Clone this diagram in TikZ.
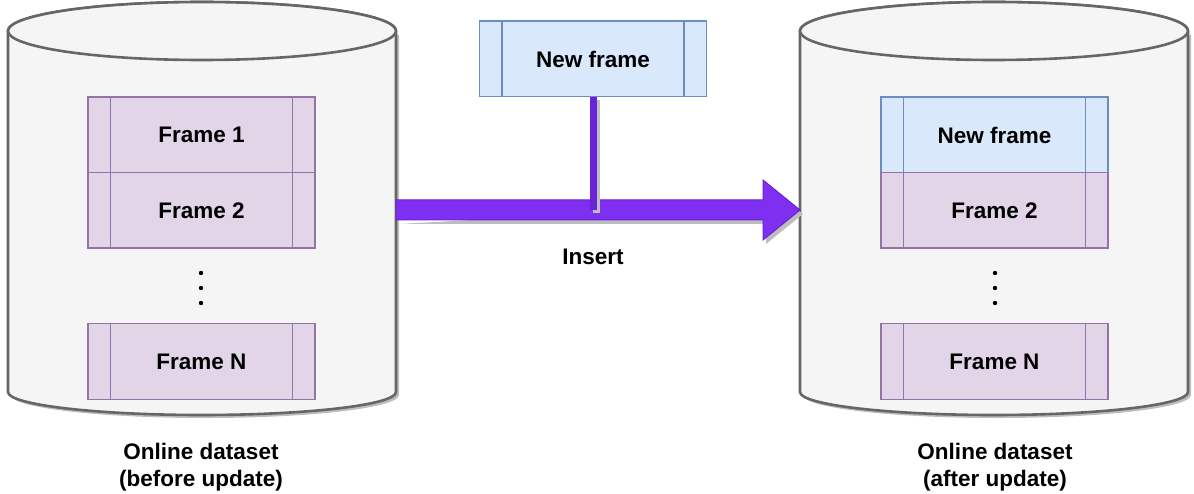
\documentclass[tikz,border=0pt]{standalone}
\usepackage{fontspec}
\setmainfont{Liberation Sans}
\usetikzlibrary{calc}
\definecolor{cylfill}{HTML}{F5F5F5}
\definecolor{cylline}{HTML}{666666}
\definecolor{purfill}{HTML}{E1D5E7}
\definecolor{purline}{HTML}{9673A6}
\definecolor{bluefill}{HTML}{DAE8FC}
\definecolor{blueline}{HTML}{6C8EBF}
\definecolor{arrowc}{HTML}{7F2FF0}
\definecolor{arrowline}{HTML}{6A22D8}
\definecolor{shadowc}{HTML}{BDBDBD}
\newcommand\dfont{\fontsize{22.5}{27}\selectfont\bfseries}
\begin{document}
\begin{tikzpicture}[x=1pt,y=1pt,
  frmbox/.style 2 args={draw=#1, fill=#2, line width=1.5pt, minimum width=227pt,
    minimum height=75.5pt, inner sep=0pt, font=\dfont,
    path picture={\draw[#1,line width=1.5pt]
      ([xshift=22.5pt]path picture bounding box.north west) -- ([xshift=22.5pt]path picture bounding box.south west)
      ([xshift=-22.5pt]path picture bounding box.north east) -- ([xshift=-22.5pt]path picture bounding box.south east);}},
  cyl/.style={fill=cylfill, draw=cylline, line width=2.6pt},
  cylshadow/.style={fill=shadowc, draw=none},
  lbl/.style={font=\dfont, align=center, inner sep=0pt},
  dotst/.style={fill=black, draw=none},
  arrowst/.style={fill=arrowc, draw=arrowline, line width=1pt, line join=miter},
  linkst/.style={draw=arrowline, line width=7pt}]
\useasboundingbox (0,0) rectangle (1194,-494);

% ---------- left cylinder ----------
\fill[cylshadow] (11,-35) -- (11,-395) arc[start angle=180,end angle=360,x radius=194pt,y radius=23pt] -- (399,-35) -- cycle;
\path[cyl] (8,-31) -- (8,-392) arc[start angle=180,end angle=360,x radius=194pt,y radius=23pt]
  -- (396,-31) arc[start angle=0,end angle=180,x radius=194pt,y radius=29pt] -- cycle;
\draw[cyl] (202,-31) ellipse[x radius=194pt,y radius=29pt];
\coordinate (cylLright) at (396,-210);

% ---------- right cylinder ----------
\fill[cylshadow] (803,-35) -- (803,-395) arc[start angle=180,end angle=360,x radius=194pt,y radius=23pt] -- (1191,-35) -- cycle;
\path[cyl] (800,-31) -- (800,-392) arc[start angle=180,end angle=360,x radius=194pt,y radius=23pt]
  -- (1188,-31) arc[start angle=0,end angle=180,x radius=194pt,y radius=29pt] -- cycle;
\draw[cyl] (994,-31) ellipse[x radius=194pt,y radius=29pt];
\coordinate (cylRleft) at (800,-210);

% ---------- frames left ----------
\node[frmbox={purline}{purfill}] (f1L) at (201.5,-135) {Frame 1};
\node[frmbox={purline}{purfill}] (f2L) at (201.5,-210.5) {Frame 2};
\node[frmbox={purline}{purfill}] (fNL) at (201.5,-361.5) {Frame N};
\fill[dotst] (201,-273) circle[radius=2.2pt] (201,-288) circle[radius=2.2pt] (201,-303) circle[radius=2.2pt];

% ---------- frames right ----------
\node[frmbox={blueline}{bluefill}] (f1R) at (994.5,-135) {New frame};
\node[frmbox={purline}{purfill}] (f2R) at (994.5,-210.5) {Frame 2};
\node[frmbox={purline}{purfill}] (fNR) at (994.5,-361.5) {Frame N};
\fill[dotst] (995,-273) circle[radius=2.2pt] (995,-288) circle[radius=2.2pt] (995,-303) circle[radius=2.2pt];

% ---------- new frame ----------
\node[frmbox={blueline}{bluefill}] (nf) at (593,-59) {New frame};

% ---------- arrow ----------
\coordinate (headbase) at ($(cylRleft)+(-37,0)$);
\fill[shadowc] ($(cylLright)+(3,-14)$) -- ($(headbase)+(3,-14)$) -- ($(headbase)+(3,-34)$)
  -- ($(cylRleft)+(3,-4)$) -- ($(headbase)+(3,26)$) -- ($(headbase)+(3,6)$) -- cycle;
\draw[arrowst] ($(cylLright)+(0,10)$) -- ($(headbase)+(0,10)$) -- ($(headbase)+(0,30)$)
  -- (cylRleft) -- ($(headbase)+(0,-30)$) -- ($(headbase)+(0,-10)$) -- ($(cylLright)+(0,-10)$) -- cycle;
\coordinate (join) at ($(nf.south)!1!(nf.south |- cylLright)$);
\draw[draw=shadowc, line width=7pt] ($(nf.south)+(3,-3)$) -- ($(join)+(3,-3)$);
\draw[linkst] (nf.south) -- (join);
\node[lbl] (ins) at (593,-257) {Insert};

% ---------- captions ----------
\node[lbl] (capL) at (201,-467) {Online dataset\\(before update)};
\node[lbl] (capR) at (995,-467) {Online dataset\\(after update)};
\end{tikzpicture}
\end{document}
